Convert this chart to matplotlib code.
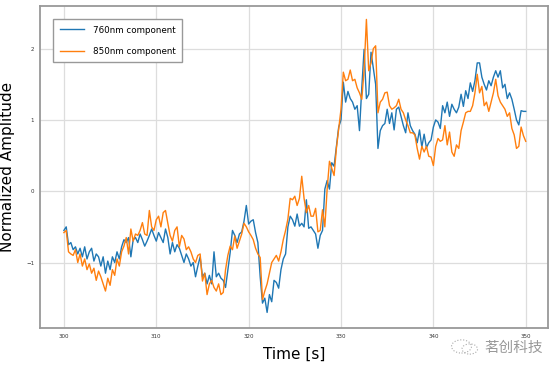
import numpy as np
import matplotlib.pyplot as plt
from matplotlib.patches import Circle

# time axis, 0.25 s steps
t = np.arange(300, 350.001, 0.25)

# 760nm component
comp_760 = [
    -0.55, -0.50, -0.75, -0.72, -0.82, -0.78, -0.88, -0.80,
    -0.92, -0.78, -0.95, -0.85, -0.80, -0.98, -0.88, -0.92,
    -1.05, -0.92, -1.15, -0.98, -1.10, -0.92, -1.00, -0.85,
    -0.95, -0.78, -0.68, -0.72, -0.65, -0.92, -0.68, -0.65,
    -0.72, -0.60, -0.68, -0.77, -0.70, -0.62, -0.53, -0.62,
    -0.70, -0.58, -0.65, -0.72, -0.53, -0.65, -0.88, -0.72,
    -0.85, -0.75, -0.80, -0.90, -1.00, -0.88, -0.95, -1.05,
    -1.00, -1.20, -1.05, -0.92, -1.20, -1.15, -1.30, -1.18,
    -1.30, -0.85, -1.20, -1.15, -1.22, -1.25, -1.35, -1.10,
    -0.86, -0.55, -0.62, -0.72, -0.60, -0.57, -0.42, -0.20,
    -0.46, -0.42, -0.40, -0.58, -0.72, -1.20, -1.57, -1.50,
    -1.70, -1.45, -1.55, -1.25, -1.28, -1.36, -1.10, -0.95,
    -0.88, -0.50, -0.35, -0.40, -0.49, -0.32, -0.49, -0.45,
    -0.50, -0.12, -0.52, -0.50, -0.55, -0.60, -0.80, -0.62,
    -0.55, 0.03, 0.15, 0.03, 0.40, 0.35, 0.63, 0.90,
    1.00, 1.53, 1.25, 1.40, 1.30, 1.25, 1.15, 1.20,
    0.85, 1.45, 1.99, 1.30, 1.36, 1.95, 1.73, 1.50,
    0.60, 0.85, 0.92, 0.95, 1.15, 0.95, 1.10, 0.86,
    1.15, 1.18, 1.05, 0.92, 0.82, 1.10, 0.92, 0.85,
    0.80, 0.68, 0.86, 0.62, 0.80, 0.61, 0.68, 0.72,
    0.90, 1.00, 0.97, 0.88, 1.20, 1.10, 1.25, 1.05,
    1.22, 1.15, 1.10, 1.18, 1.36, 1.19, 1.41, 1.30,
    1.52, 1.40, 1.55, 1.80, 1.80, 1.60, 1.50, 1.42,
    1.55, 1.48, 1.60, 1.69, 1.60, 1.69, 1.45, 1.50,
    1.30, 1.38, 1.29, 1.15, 1.00, 0.93, 1.13, 1.12,
    1.12,
]

# 850nm component
comp_850 = [
    -0.58, -0.55, -0.85, -0.88, -0.90, -0.82, -1.00, -0.88,
    -1.05, -0.95, -1.10, -1.02, -1.15, -1.08, -1.25, -1.12,
    -1.20, -1.30, -1.40, -1.22, -1.32, -1.10, -1.18, -0.95,
    -1.05, -0.85, -0.77, -0.65, -0.88, -0.53, -0.70, -0.60,
    -0.62, -0.55, -0.44, -0.60, -0.62, -0.27, -0.50, -0.55,
    -0.40, -0.35, -0.50, -0.30, -0.27, -0.45, -0.62, -0.70,
    -0.55, -0.50, -0.78, -0.62, -0.67, -0.82, -0.78, -0.85,
    -0.95, -1.00, -0.90, -0.88, -1.26, -1.15, -1.45, -1.30,
    -1.25, -1.35, -1.40, -1.30, -1.45, -1.42, -1.10, -0.90,
    -0.77, -0.82, -0.63, -0.80, -0.70, -0.60, -0.45, -0.50,
    -0.57, -0.62, -0.68, -0.80, -0.88, -0.93, -1.52, -1.40,
    -1.30, -1.15, -1.00, -0.95, -0.90, -0.98, -0.85, -0.68,
    -0.55, -0.39, -0.10, -0.12, -0.07, -0.20, -0.10, 0.21,
    -0.10, -0.30, -0.20, -0.35, -0.35, -0.24, -0.57, -0.55,
    -0.26, -0.50, 0.03, 0.42, 0.32, 0.22, 0.60, 0.87,
    1.15, 1.67, 1.55, 1.57, 1.70, 1.55, 1.57, 1.45,
    1.38, 1.29, 1.70, 2.41, 1.69, 1.80, 2.00, 2.04,
    1.10, 1.25, 1.29, 1.38, 1.39, 1.20, 1.15, 1.17,
    1.20, 1.29, 1.15, 1.10, 1.00, 0.92, 0.82, 0.82,
    0.79, 0.60, 0.45, 0.63, 0.55, 0.63, 0.49, 0.48,
    0.36, 0.63, 0.74, 0.70, 0.72, 0.92, 0.65, 0.83,
    0.55, 0.49, 0.65, 0.60, 0.85, 0.97, 1.10, 1.12,
    1.12, 1.20, 1.38, 1.64, 1.38, 1.47, 1.20, 1.25,
    1.12, 1.25, 1.38, 1.57, 1.34, 1.25, 1.20, 1.15,
    1.05, 1.10, 0.88, 0.79, 0.60, 0.63, 0.90, 0.78,
    0.70,
]

fig = plt.figure(figsize=(5.54, 3.67), dpi=100)
ax = fig.add_axes([0.072, 0.106, 0.917, 0.878])

ax.plot(t, comp_760, color='#1f77b4', lw=1.0, label='760nm component')
ax.plot(t, comp_850, color='#ff7f0e', lw=1.0, label='850nm component')

ax.set_xlim(297.4, 352.4)
ax.set_ylim(-1.92, 2.6)
ax.set_xticks([300, 310, 320, 330, 340, 350])
ax.set_yticks([-1, 0, 1, 2])
ax.tick_params(labelsize=4, length=0, pad=4, colors='#333333')
ax.grid(True, color='#dddddd', lw=0.9)
for s in ax.spines.values():
    s.set_color('#999999')
    s.set_linewidth(1.3)

ax.set_xlabel('Time [s]', fontsize=11, labelpad=6)
ax.set_ylabel('Normalized Amplitude', fontsize=11, labelpad=8)

leg = ax.legend(loc='upper left', fontsize=6.3, fancybox=False, framealpha=1,
                edgecolor='#999999', labelspacing=1.4, handlelength=2.8,
                handletextpad=1.0, borderpad=0.75, borderaxespad=1.5)
leg.get_frame().set_linewidth(1.0)

# watermark, kept just below the 350 tick label
fig.text(0.875, 0.052, '茗创科技', fontsize=10.5, color='#999999',
         family=['Noto Sans CJK SC', 'DejaVu Sans'], va='center')
fig.patches.append(Circle((0.833, 0.056), 0.018, transform=fig.transFigure,
                          fill=False, ls=':', ec='#aaaaaa', lw=0.8))
fig.patches.append(Circle((0.848, 0.049), 0.014, transform=fig.transFigure,
                          fill=False, ls=':', ec='#aaaaaa', lw=0.8))

fig.savefig('out.png', dpi=100)
